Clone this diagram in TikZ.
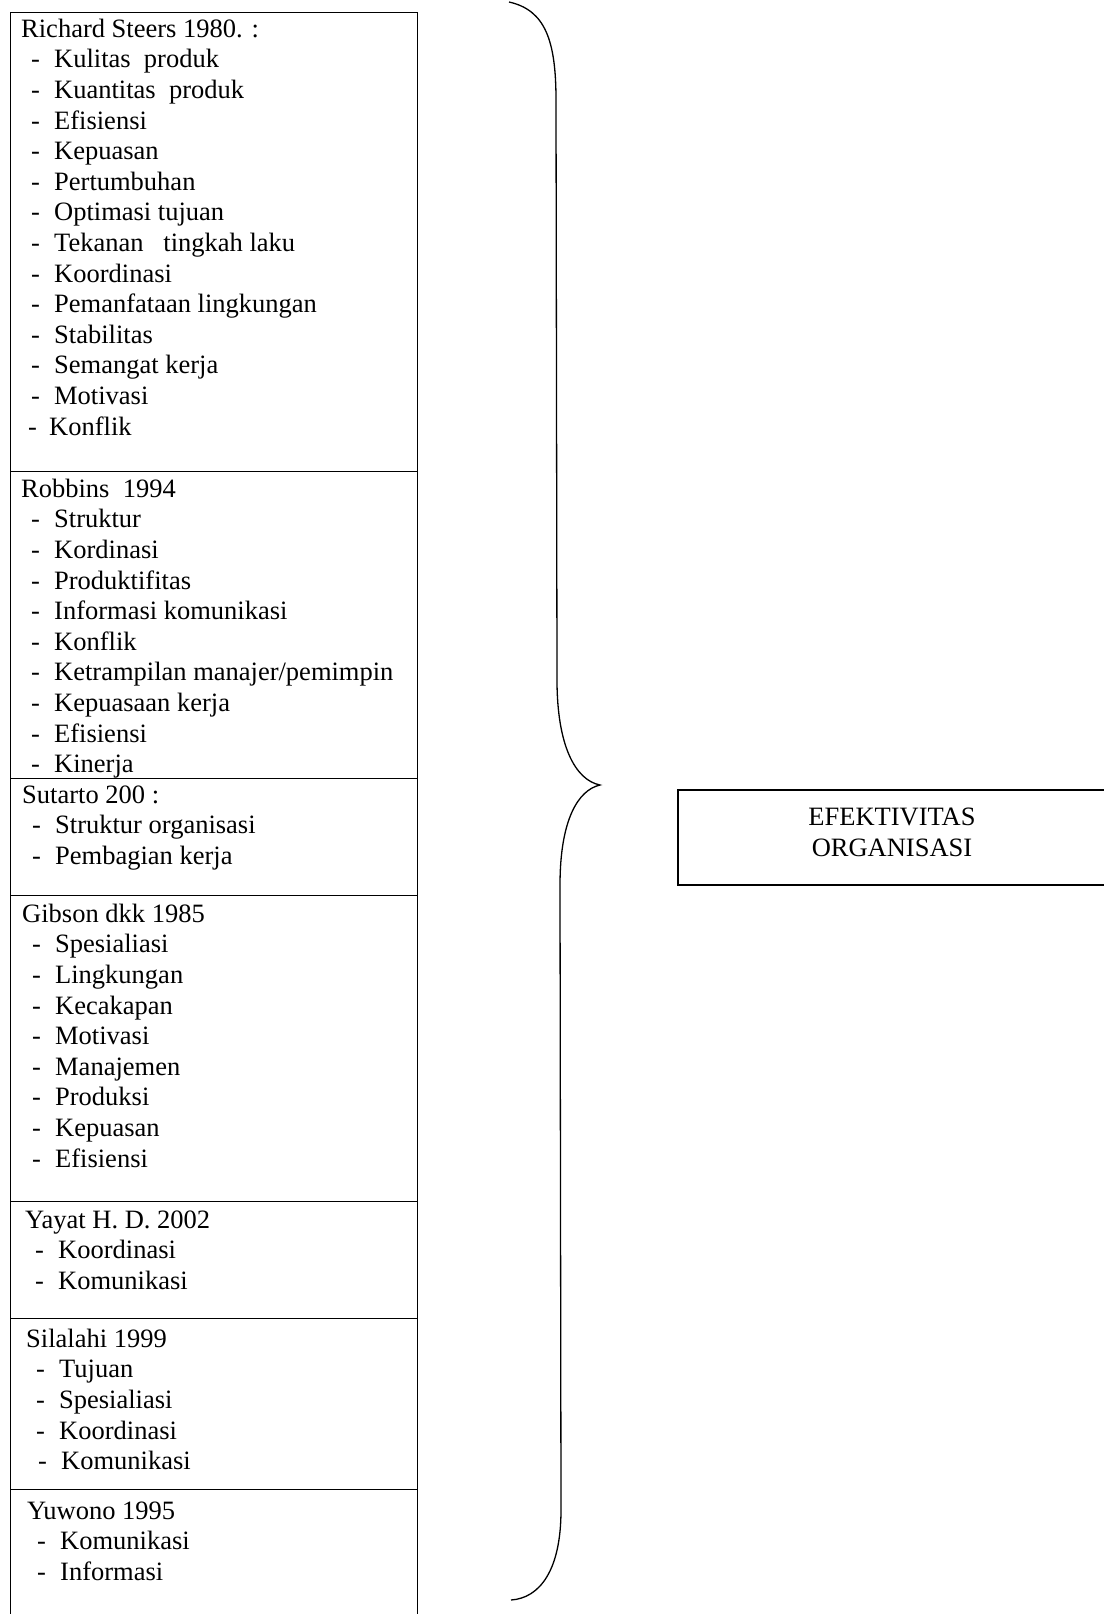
\documentclass[tikz,border=0pt]{standalone}
\usepackage{fontspec}
\setmainfont{Liberation Serif}
\usetikzlibrary{positioning}

\tikzset{
  cell/.style={draw, line width=1.2pt, anchor=north west, minimum width=407pt, inner sep=0pt},
  list/.style={anchor=north west, align=left, inner sep=0pt},
}
\newcommand{\itm}[1]{\\\hspace*{10pt}\makebox[23pt][l]{-}#1}
\newcommand{\hd}{\rule{0pt}{20pt}}

\begin{document}
\begin{tikzpicture}[x=1pt, y=-1pt, font=\fontsize{26.5}{30.6}\selectfont]
\useasboundingbox (0,0) rectangle (1103,1614);

% boxes of the left column
\node[cell, minimum height=459pt] (steersbox) at (10,12) {};
\node[cell, minimum height=307pt] (robbinsbox) at (10,471) {};
\node[cell, minimum height=117pt] (sutartobox) at (10,778) {};
\node[cell, minimum height=306pt] (gibsonbox) at (10,895) {};
\node[cell, minimum height=117pt] (yayatbox) at (10,1201) {};
\node[cell, minimum height=171pt] (silalahibox) at (10,1318) {};
\node[cell, minimum height=125pt] (yuwonobox) at (10,1489) {};

% lists
\node[list] (steers) at (21,17) {\hd Richard Steers 1980. :
  \itm{Kulitas\ \ produk}
  \itm{Kuantitas\ \ produk}
  \itm{Efisiensi}
  \itm{Kepuasan}
  \itm{Pertumbuhan}
  \itm{Optimasi tujuan}
  \itm{Tekanan\ \ \ tingkah laku}
  \itm{Koordinasi}
  \itm{Pemanfataan lingkungan}
  \itm{Stabilitas}
  \itm{Semangat kerja}
  \itm{Motivasi}
  \\\hspace*{7pt}\makebox[21pt][l]{-}Konflik};
\node[list] (robbins) at (21,477) {\hd Robbins\ \ 1994
  \itm{Struktur}
  \itm{Kordinasi}
  \itm{Produktifitas}
  \itm{Informasi komunikasi}
  \itm{Konflik}
  \itm{Ketrampilan manajer/pemimpin}
  \itm{Kepuasaan kerja}
  \itm{Efisiensi}
  \itm{Kinerja}};
\node[list] (sutarto) at (22,783) {\hd Sutarto 200 :
  \itm{Struktur organisasi}
  \itm{Pembagian kerja}};
\node[list] (gibson) at (22,902) {\hd Gibson dkk 1985
  \itm{Spesialiasi}
  \itm{Lingkungan}
  \itm{Kecakapan}
  \itm{Motivasi}
  \itm{Manajemen}
  \itm{Produksi}
  \itm{Kepuasan}
  \itm{Efisiensi}};
\node[list] (yayat) at (25,1208) {\hd Yayat H. D. 2002
  \itm{Koordinasi}
  \itm{Komunikasi}};
\node[list] (silalahi) at (26,1327) {\hd Silalahi 1999
  \itm{Tujuan}
  \itm{Spesialiasi}
  \itm{Koordinasi}
  \\\hspace*{12pt}\makebox[23pt][l]{-}Komunikasi};
\node[list] (yuwono) at (27,1499) {\hd Yuwono 1995
  \itm{Komunikasi}
  \itm{Informasi}};

% result box
\node[draw, line width=1.2pt, minimum width=428pt, minimum height=95pt] (efektifbox) at (892,837.5) {};
\node[align=center, inner sep=0pt] (efektif) at (892,832.5) {EFEKTIVITAS\\ORGANISASI};

% brace
\draw[line width=1.3pt] (509,2) .. controls (545,10) and (556,40) .. (556,100)
  -- (557,680) .. controls (557,745) and (575,780) .. (600,785)
  .. controls (578,790) and (560,820) .. (560,885)
  -- (561,1510) .. controls (561,1570) and (540,1598) .. (511,1600);
\end{tikzpicture}
\end{document}
